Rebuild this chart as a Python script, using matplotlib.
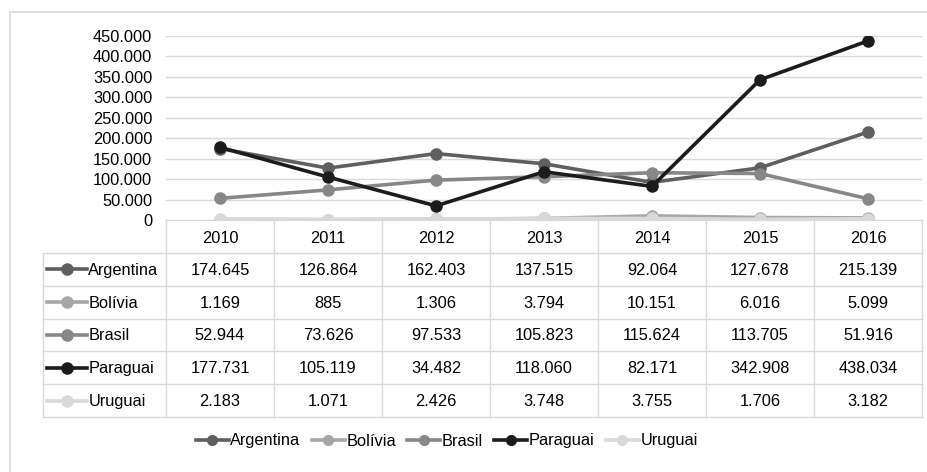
import matplotlib.pyplot as plt
from matplotlib.lines import Line2D
from matplotlib.patches import Rectangle

plt.rcParams["font.family"] = ["Liberation Sans", "DejaVu Sans"]

years = ["2010", "2011", "2012", "2013", "2014", "2015", "2016"]
argentina = [174645, 126864, 162403, 137515, 92064, 127678, 215139]
bolivia = [1169, 885, 1306, 3794, 10151, 6016, 5099]
brasil = [52944, 73626, 97533, 105823, 115624, 113705, 51916]
paraguai = [177731, 105119, 34482, 118060, 82171, 342908, 438034]
uruguai = [2183, 1071, 2426, 3748, 3755, 1706, 3182]

names = ["Argentina", "Bolívia", "Brasil", "Paraguai", "Uruguai"]
series = [argentina, bolivia, brasil, paraguai, uruguai]
colors = ["#5f5f5f", "#a6a6a6", "#878787", "#1c1c1c", "#d9d9d9"]

W, H = 927, 472
GRID = "#d9d9d9"
FS = 11.8


def fmt(v):
    return f"{v:,}".replace(",", ".")


def box(x0, y0, x1, y1):
    # pixel box (top-left origin) -> figure fraction rect
    return [x0 / W, 1 - y1 / H, (x1 - x0) / W, (y1 - y0) / H]


fig = plt.figure(figsize=(W / 100, H / 100), dpi=100)
fig.patches.append(Rectangle((10 / W, -0.1), 1.2, 1 - 12 / H + 0.1, transform=fig.transFigure,
                             fill=False, edgecolor=GRID, linewidth=1.2))

# line chart
ax = fig.add_axes(box(166, 36, 922, 220))
x = range(len(years))
draw_order = [4, 1, 2, 0, 3]
for i in draw_order:
    ax.plot(x, series[i], color=colors[i], lw=2.6, marker="o", ms=8, zorder=3 + i)
ax.set_xlim(-0.5, 6.5)
ax.set_ylim(0, 450000)
ax.set_yticks(range(0, 450001, 50000))
ax.set_yticklabels([fmt(v) for v in range(0, 450001, 50000)], fontsize=FS)
ax.tick_params(axis="y", length=0, pad=10)
ax.set_xticks([])
ax.grid(axis="y", color=GRID, lw=1)
for s in ["top", "right", "left"]:
    ax.spines[s].set_visible(False)
ax.spines["bottom"].set_color(GRID)
ax.set_axisbelow(True)

# data table
label_w = (166 - 43) / 108
tx = fig.add_axes(box(43, 220, 922, 417))
tx.set_xlim(-0.5 - label_w, 6.5)
tx.set_ylim(6, 0)
tx.axis("off")
lkw = dict(color=GRID, lw=1, clip_on=False)
for r in range(1, 7):
    tx.plot([-0.5 - label_w, 6.5], [r, r], **lkw)
for c in range(8):
    tx.plot([c - 0.5, c - 0.5], [0, 6], **lkw)
tx.plot([-0.5 - label_w] * 2, [1, 6], **lkw)
for j, yr in enumerate(years):
    tx.text(j, 0.55, yr, ha="center", va="center", fontsize=FS)
for i, (name, vals) in enumerate(zip(names, series)):
    r = i + 1.5
    x0 = -0.5 - label_w
    tx.plot([x0 + 0.04, x0 + 0.41], [r, r], color=colors[i], lw=2.6, clip_on=False)
    tx.plot([x0 + 0.225], [r], marker="o", ms=8, color=colors[i], clip_on=False)
    tx.text(x0 + 0.42, r + 0.03, name, ha="left", va="center", fontsize=FS)
    for j, v in enumerate(vals):
        tx.text(j, r + 0.03, fmt(v), ha="center", va="center", fontsize=FS)

handles = [Line2D([], [], color=c, lw=2.6, marker="o", ms=7) for c in colors]
fig.legend(handles, names, loc="center", bbox_to_anchor=(0.482, 1 - 441 / H), ncol=5,
           frameon=False, fontsize=FS, handlelength=2.0, handletextpad=0.1, columnspacing=0.7)

fig.savefig("out.png", dpi=100)
